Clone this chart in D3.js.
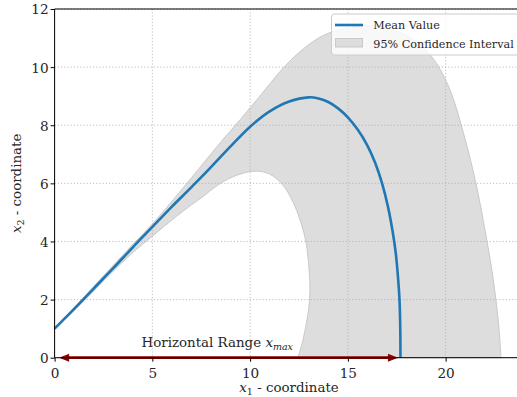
<!DOCTYPE html>
<html>
<head>
<meta charset="utf-8">
<script src="https://cdn.jsdelivr.net/npm/d3@7/dist/d3.min.js"></script>
<style>
  html, body { margin: 0; padding: 0; background: #ffffff; }
  svg { display: block; }
  svg text { font-family: "DejaVu Serif", serif; }
</style>
</head>
<body>
<svg id="chart" width="517" height="397"></svg>
<script>
// ---- data ----
const meanX  = [0, 1, 2, 3, 4, 5, 6, 7, 8, 9, 10, 11, 12, 13, 13.5, 14, 14.5, 15, 15.5, 16, 16.4, 16.75, 17.05, 17.3, 17.45, 17.56, 17.64, 17.68, 17.69];
const meanY  = [1.0, 1.68, 2.38, 3.08, 3.8, 4.5, 5.2, 5.87, 6.56, 7.27, 7.95, 8.48, 8.82, 8.96, 8.92, 8.8, 8.58, 8.27, 7.85, 7.3, 6.7, 6.0, 5.2, 4.3, 3.6, 2.8, 2.0, 1.0, 0.0];

const upperX = [0, 1, 2, 3, 4, 5, 6.06, 7.34, 8.5, 9.5, 10.5, 11.6, 12.5, 13.5, 14.5, 15.5, 16.5, 17.5, 18.5, 19.3, 19.9, 20.4, 20.8, 21.2, 21.55, 21.85, 22.12, 22.37, 22.57, 22.73, 22.83];
const upperY = [1.0, 1.72, 2.45, 3.18, 3.9, 4.6, 5.43, 6.47, 7.42, 8.2, 9.0, 9.9, 10.5, 11.0, 11.28, 11.4, 11.42, 11.24, 10.88, 10.35, 9.7, 8.9, 8.0, 7.0, 6.0, 5.0, 4.0, 3.0, 2.0, 1.0, 0.0];

const lowerX = [0, 1, 2, 3, 4, 5, 6, 7, 7.6, 8.3, 9.1, 10.2, 11, 11.7, 12.2, 12.55, 12.85, 13.02, 13.06, 13.0, 12.88, 12.7, 12.45];
const lowerY = [1.0, 1.62, 2.3, 2.98, 3.62, 4.18, 4.74, 5.26, 5.55, 5.92, 6.22, 6.42, 6.32, 5.92, 5.35, 4.75, 4.0, 3.0, 2.3, 1.7, 1.2, 0.6, 0.0];

const xTicks = [0, 5, 10, 15, 20];
const yTicks = [0, 2, 4, 6, 8, 10, 12];
const xDomain = [0, 23.84];
const yDomain = [0, 12];
const rangeStart = 0;      // x where the horizontal range arrow starts
const rangeEnd = 17.69;    // x_max of the mean trajectory
const legendLabels = ["Mean Value", "95% Confidence Interval"];

// ---- layout ----
const W = 517, H = 397;
const pLeft = 54.6, pRight = 520.7, pTop = 9.0, pBottom = 357.7;
const textColor = "#262626";

const svg = d3.select("#chart");
svg.append("rect").attr("width", W).attr("height", H).attr("fill", "#ffffff");

const x = d3.scaleLinear().domain(xDomain).range([pLeft, pRight]);
const y = d3.scaleLinear().domain(yDomain).range([pBottom, pTop]);

const toPts = (xs, ys) => xs.map((v, i) => [v, ys[i]]);
const line = d3.line().x(d => x(d[0])).y(d => y(d[1])).curve(d3.curveCatmullRom.alpha(0.5));

// ---- confidence band ----
const upperPts = toPts(upperX, upperY);
const lowerPts = toPts(lowerX, lowerY).reverse();
const bandPath = line(upperPts) + "L" + line(lowerPts).slice(1) + "Z";
svg.append("path")
  .attr("d", bandPath)
  .attr("fill", "#dddddd")
  .attr("stroke", "#c9c9c9")
  .attr("stroke-width", 1);

// ---- grid ----
const grid = svg.append("g");
grid.selectAll("line.vx").data(xTicks).enter().append("line")
  .attr("x1", d => x(d)).attr("x2", d => x(d))
  .attr("y1", pTop).attr("y2", pBottom)
  .attr("stroke", "#b0b0b0").attr("stroke-width", 0.8).attr("stroke-dasharray", "1.2,2");
grid.selectAll("line.hy").data(yTicks).enter().append("line")
  .attr("x1", pLeft).attr("x2", pRight)
  .attr("y1", d => y(d)).attr("y2", d => y(d))
  .attr("stroke", "#b0b0b0").attr("stroke-width", 0.8).attr("stroke-dasharray", "1.2,2");

// ---- mean line ----
svg.append("path")
  .attr("d", line(toPts(meanX, meanY)))
  .attr("fill", "none")
  .attr("stroke", "#1f77b4")
  .attr("stroke-width", 2.6)
  .attr("stroke-linecap", "butt");

// ---- arrow for horizontal range ----
const arrowColor = "#8b0000";
const ay = y(0);
const ax0 = x(rangeStart) + 4.5, ax1 = x(rangeEnd) - 2.5;
const headL = 10, headW = 4;
svg.append("line")
  .attr("x1", ax0 + headL - 1).attr("x2", ax1 - headL + 1)
  .attr("y1", ay).attr("y2", ay)
  .attr("stroke", arrowColor).attr("stroke-width", 2.8);
svg.append("path")
  .attr("d", `M${ax0},${ay}L${ax0 + headL},${ay - headW}L${ax0 + headL},${ay + headW}Z`)
  .attr("fill", arrowColor);
svg.append("path")
  .attr("d", `M${ax1},${ay}L${ax1 - headL},${ay - headW}L${ax1 - headL},${ay + headW}Z`)
  .attr("fill", arrowColor);

// ---- range label ----
const rl = svg.append("text")
  .attr("x", x(8.32)).attr("y", y(0.36))
  .attr("text-anchor", "middle")
  .attr("font-size", 13.4).attr("fill", textColor);
rl.append("tspan").text("Horizontal Range ");
rl.append("tspan").attr("font-style", "italic").text("x");
rl.append("tspan").attr("font-style", "italic").attr("font-size", 9.5).attr("dy", 2.5).text("max");

// ---- spines ----
svg.append("line").attr("x1", pLeft).attr("x2", pLeft).attr("y1", pTop).attr("y2", pBottom)
  .attr("stroke", "#000").attr("stroke-width", 1);
svg.append("line").attr("x1", pLeft).attr("x2", pRight).attr("y1", pBottom).attr("y2", pBottom)
  .attr("stroke", "#000").attr("stroke-width", 1);
svg.append("line").attr("x1", pLeft).attr("x2", pRight).attr("y1", pTop).attr("y2", pTop)
  .attr("stroke", "#000").attr("stroke-width", 1);

// ---- axes (ticks + labels) ----
const xAxis = d3.axisBottom(x).tickValues(xTicks).tickSize(4).tickSizeOuter(0).tickFormat(d3.format("d"));
const gx = svg.append("g").attr("transform", `translate(0,${pBottom})`).call(xAxis);
gx.attr("font-family", null);
gx.select(".domain").remove();
gx.selectAll(".tick line").attr("stroke", "#000").attr("stroke-width", 1);
gx.selectAll(".tick text")
  .attr("font-size", 13.6)
  .attr("fill", textColor).attr("y", 10.6).attr("dy", "0.71em");

const yAxis = d3.axisLeft(y).tickValues(yTicks).tickSize(4).tickSizeOuter(0).tickFormat(d3.format("d"));
const gy = svg.append("g").attr("transform", `translate(${pLeft},0)`).call(yAxis);
gy.attr("font-family", null);
gy.select(".domain").remove();
gy.selectAll(".tick line").attr("stroke", "#000").attr("stroke-width", 1);
gy.selectAll(".tick text")
  .attr("font-size", 13.6)
  .attr("fill", textColor).attr("x", -6).attr("dy", "0.36em");

// axis titles
const xl = svg.append("text")
  .attr("x", 289).attr("y", 392)
  .attr("text-anchor", "middle").attr("font-size", 13.4).attr("fill", textColor);
xl.append("tspan").attr("font-style", "italic").text("x");
xl.append("tspan").attr("font-size", 9.5).attr("dy", 2.5).text("1");
xl.append("tspan").attr("dy", -2.5).text(" - coordinate");

const yl = svg.append("text")
  .attr("transform", `translate(21,${(pTop + pBottom) / 2}) rotate(-90)`)
  .attr("text-anchor", "middle").attr("font-size", 13.4).attr("fill", textColor);
yl.append("tspan").attr("font-style", "italic").text("x");
yl.append("tspan").attr("font-size", 9.5).attr("dy", 2.5).text("2");
yl.append("tspan").attr("dy", -2.5).text(" - coordinate");

// ---- legend ----
const lg = svg.append("g");
lg.append("rect")
  .attr("x", 331.5).attr("y", 14).attr("width", 190).attr("height", 41)
  .attr("rx", 3).attr("fill", "#ffffff").attr("fill-opacity", 0.8)
  .attr("stroke", "#cccccc").attr("stroke-width", 1);
lg.append("line").attr("x1", 335).attr("x2", 363).attr("y1", 25).attr("y2", 25)
  .attr("stroke", "#1f77b4").attr("stroke-width", 2.6);
lg.append("rect").attr("x", 335.5).attr("y", 38.5).attr("width", 27).attr("height", 8.5)
  .attr("fill", "#dddddd").attr("stroke", "#c9c9c9").attr("stroke-width", 1);
lg.selectAll("text.lab").data(legendLabels).enter().append("text")
  .attr("x", 373.3).attr("y", (d, i) => 29.3 + i * 18.6)
  .attr("font-size", 11.2).attr("fill", textColor)
  .text(d => d);
</script>
</body>
</html>
